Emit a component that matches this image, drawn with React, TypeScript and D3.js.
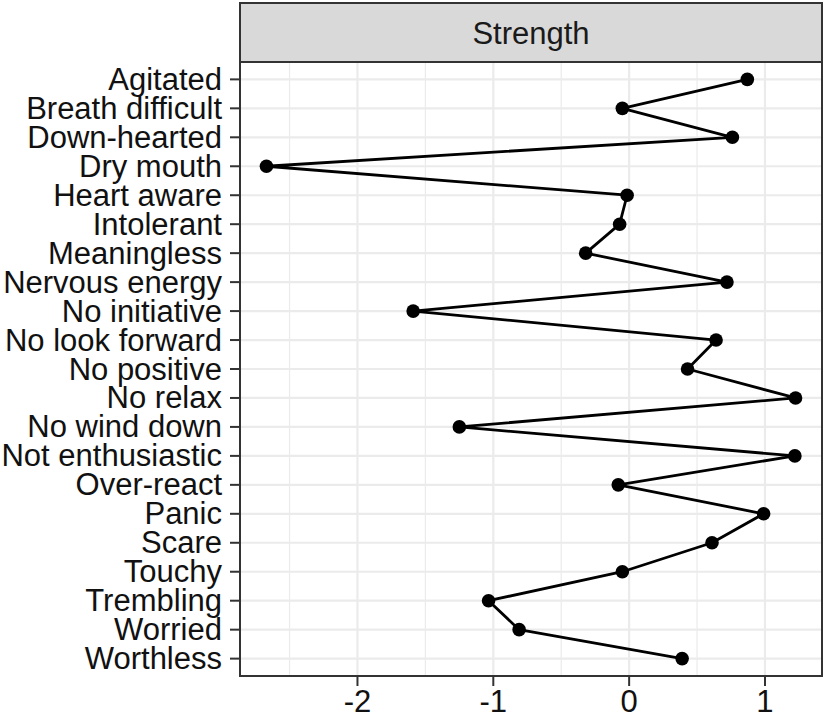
import React from 'react';
import * as d3 from 'd3';

const items = [
  'Agitated', 'Breath difficult', 'Down-hearted', 'Dry mouth', 'Heart aware',
  'Intolerant', 'Meaningless', 'Nervous energy', 'No initiative', 'No look forward',
  'No positive', 'No relax', 'No wind down', 'Not enthusiastic', 'Over-react',
  'Panic', 'Scare', 'Touchy', 'Trembling', 'Worried', 'Worthless',
];
const strengthValues = [
  0.87, -0.05, 0.76, -2.67, -0.015,
  -0.07, -0.32, 0.72, -1.59, 0.64,
  0.43, 1.225, -1.25, 1.22, -0.08,
  0.99, 0.61, -0.05, -1.035, -0.81,
  0.39,
];
const xTicks = [-2, -1, 0, 1];
const xMinor = [-2.5, -1.5, -0.5, 0.5];
const panelTitle = 'Strength';

export default function App() {
  const W = 825, H = 720;
  const left = 240, right = 822, top = 62, bottom = 676, stripTop = 3;
  const font = '"Liberation Sans", Arial, sans-serif';
  const fs = 31;
  const ext = d3.extent(strengthValues) as [number, number];
  const pad = (ext[1] - ext[0]) * 0.05;
  const x = d3.scaleLinear().domain([ext[0] - pad, ext[1] + pad]).range([left, right]);
  const y = d3.scalePoint<string>().domain(items).range([top, bottom]).padding(0.6);
  const pts = items.map((d, i) => [x(strengthValues[i]), y(d) as number] as [number, number]);
  const line = d3.line()(pts) || '';
  const minor = xMinor.filter(v => x(v) > left && x(v) < right);
  return (
    <svg width={W} height={H} style={{ position: 'absolute', left: 0, top: 0, background: '#fff' }}
      fontFamily={font}>
      <rect x={0} y={0} width={W} height={H} fill="#fff" />
      <rect x={left} y={top} width={right - left} height={bottom - top} fill="#fff" />
      {minor.map(v => (
        <line key={'mn' + v} x1={x(v)} x2={x(v)} y1={top} y2={bottom} stroke="#ebebeb" strokeWidth={1.2} />
      ))}
      {xTicks.map(v => (
        <line key={'mj' + v} x1={x(v)} x2={x(v)} y1={top} y2={bottom} stroke="#ebebeb" strokeWidth={2.2} />
      ))}
      {items.map(d => (
        <line key={'hy' + d} x1={left} x2={right} y1={y(d)} y2={y(d)} stroke="#ebebeb" strokeWidth={2.2} />
      ))}
      <path d={line} fill="none" stroke="#000" strokeWidth={2.8} strokeLinejoin="round" />
      {pts.map((p, i) => (
        <circle key={'pt' + i} cx={p[0]} cy={p[1]} r={6.8} fill="#000" />
      ))}
      <rect x={left} y={top} width={right - left} height={bottom - top} fill="none" stroke="#333" strokeWidth={2} />
      <rect x={left} y={stripTop} width={right - left} height={top - stripTop} fill="#d9d9d9" stroke="#333" strokeWidth={2} />
      <text x={(left + right) / 2} y={(stripTop + top) / 2 + 1} textAnchor="middle" dominantBaseline="central"
        fontSize={fs} fill="#1a1a1a">{panelTitle}</text>
      {items.map(d => (
        <g key={'yt' + d}>
          <line x1={left - 10} x2={left} y1={y(d)} y2={y(d)} stroke="#333" strokeWidth={2} />
          <text x={left - 18} y={y(d)} textAnchor="end" dominantBaseline="central" fontSize={fs} fill="#111">{d}</text>
        </g>
      ))}
      {xTicks.map(v => (
        <g key={'xt' + v}>
          <line x1={x(v)} x2={x(v)} y1={bottom} y2={bottom + 10} stroke="#333" strokeWidth={2} />
          <text x={x(v)} y={bottom + 14} textAnchor="middle" dominantBaseline="hanging" fontSize={fs} fill="#111">
            {v < 0 ? '-' + Math.abs(v) : String(v)}
          </text>
        </g>
      ))}
    </svg>
  );
}
